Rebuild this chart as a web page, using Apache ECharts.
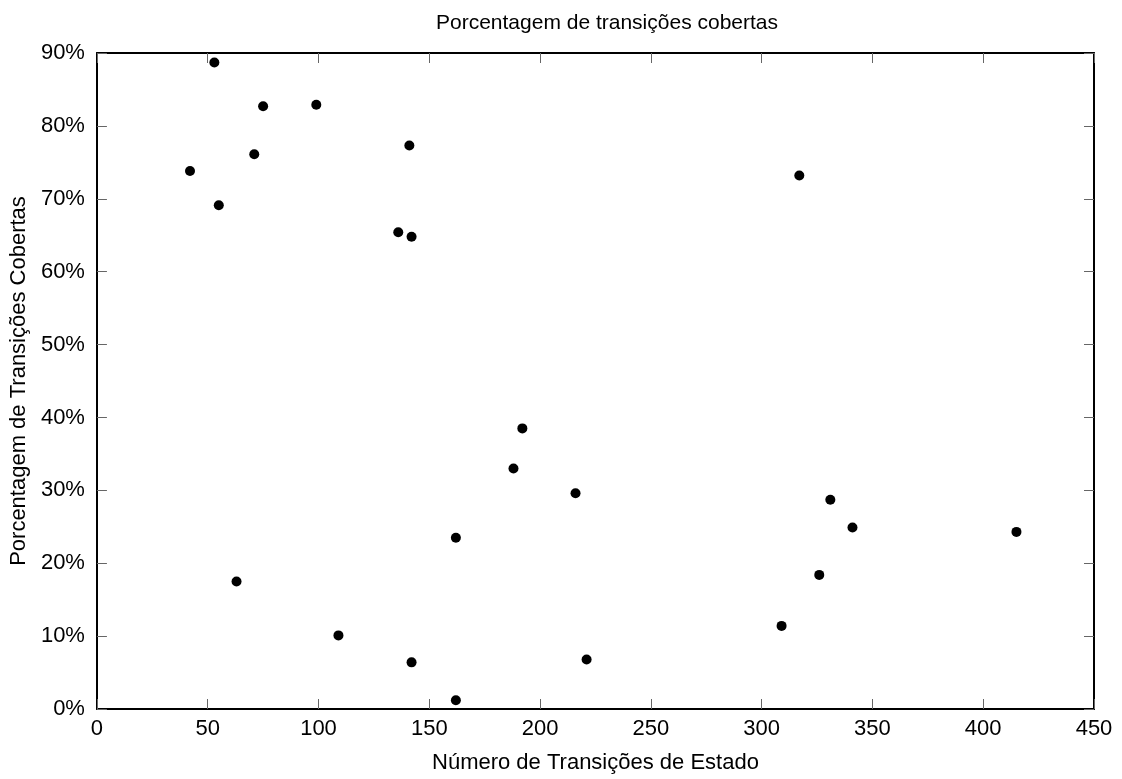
<!DOCTYPE html>
<html>
<head>
<meta charset="utf-8">
<script src="https://cdn.jsdelivr.net/npm/echarts@6/dist/echarts.min.js"></script>
<style>
html,body{margin:0;padding:0;background:#fff;}
#chart{width:1122px;height:779px;}
</style>
</head>
<body>
<div id="chart"></div>
<script>
// Data
var transicoesEstado = [53, 75, 99, 42, 71, 55, 141, 136, 142, 317, 192, 188, 216, 162, 63, 109, 142, 162, 221, 309, 326, 331, 341, 415];
var porcentagemCobertas = [88.7, 82.7, 82.9, 73.8, 76.1, 69.1, 77.3, 65.4, 64.8, 73.2, 38.5, 33.0, 29.6, 23.5, 17.5, 10.1, 6.4, 1.2, 6.8, 11.4, 18.4, 28.7, 24.9, 24.3];

var titleText = 'Porcentagem de transições cobertas';
var xName = 'Número de Transições de Estado';
var yName = 'Porcentagem de Transições Cobertas';

var points = transicoesEstado.map(function (x, i) { return [x, porcentagemCobertas[i]]; });

var FONT = 'Liberation Sans, Arial, Helvetica, sans-serif';
var FS = 22;

var chart = echarts.init(document.getElementById('chart'), null, { renderer: 'canvas' });

function baseAxis(extra) {
  var a = {
    type: 'value',
    axisLine: { show: true, onZero: false, lineStyle: { color: '#000', width: 2 } },
    axisTick: { show: true, inside: true, length: 10, lineStyle: { color: '#666', width: 1 } },
    splitLine: { show: false },
    axisLabel: { show: true, color: '#000', fontFamily: FONT, fontSize: FS }
  };
  for (var k in extra) a[k] = extra[k];
  return a;
}

chart.setOption({
  backgroundColor: '#fff',
  animation: false,
  title: {
    text: titleText,
    left: 602,
    top: 8,
    textAlign: 'center',
    textStyle: { color: '#000', fontFamily: FONT, fontSize: 21, fontWeight: 'normal' }
  },
  grid: { left: 95, right: 28, top: 53, bottom: 69, containLabel: false },
  xAxis: [
    baseAxis({
      position: 'bottom', min: 0, max: 450, interval: 50,
      name: xName, nameLocation: 'middle', nameGap: 43,
      nameTextStyle: { color: '#000', fontFamily: FONT, fontSize: FS },
      axisLabel: { show: true, color: '#000', fontFamily: FONT, fontSize: FS, margin: 9 }
    }),
    baseAxis({
      position: 'top', min: 0, max: 450, interval: 50,
      axisLabel: { show: false }
    })
  ],
  yAxis: [
    baseAxis({
      position: 'left', min: 0, max: 90, interval: 10,
      name: yName, nameLocation: 'middle', nameGap: 63, nameRotate: 90,
      nameTextStyle: { color: '#000', fontFamily: FONT, fontSize: FS },
      axisLabel: { show: true, color: '#000', fontFamily: FONT, fontSize: FS, margin: 12, formatter: '{value}%' }
    }),
    baseAxis({
      position: 'right', min: 0, max: 90, interval: 10,
      axisLabel: { show: false }
    })
  ],
  series: [{
    type: 'scatter',
    xAxisIndex: 0,
    yAxisIndex: 0,
    data: points,
    symbol: 'circle',
    symbolSize: 10,
    itemStyle: { color: '#000', opacity: 1 }
  }]
});
</script>
</body>
</html>
